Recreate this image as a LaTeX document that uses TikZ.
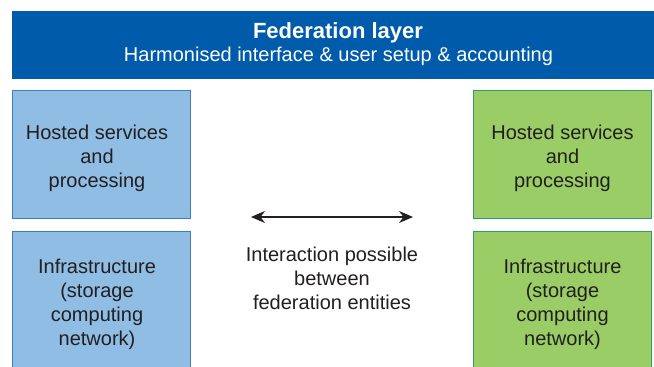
\documentclass[tikz,border=0pt]{standalone}
\usepackage{fontspec}
\setmainfont{Liberation Sans}
\usetikzlibrary{arrows.meta}
\definecolor{bannerblue}{RGB}{0,91,170}
\definecolor{boxblue}{RGB}{143,189,228}
\definecolor{edgeblue}{RGB}{62,125,192}
\definecolor{boxgreen}{RGB}{154,205,102}
\definecolor{edgegreen}{RGB}{42,158,108}
\definecolor{txt}{RGB}{35,31,32}
\begin{document}
\begin{tikzpicture}[x=1pt,y=-1pt,
  bodyfont/.style={font=\fontsize{20}{24}\selectfont},
  panel/.style={line width=1pt, minimum width=178pt, inner sep=0pt},
  bluebox/.style={panel, draw=edgeblue, fill=boxblue},
  greenbox/.style={panel, draw=edgegreen, fill=boxgreen},
  banner/.style={fill=bannerblue, inner sep=0pt},
  bantext/.style={text=white, inner sep=0pt},
  plain/.style={text=txt, align=center, inner sep=0pt, bodyfont}]
\useasboundingbox (0,0) rectangle (654,367);
\clip (0,0) rectangle (654,367);
\fill[white] (0,0) rectangle (654,367);
\node[banner, minimum width=642pt, minimum height=68pt] (fed) at (333,45) {};
\node[bantext, font=\fontsize{22}{26}\bfseries\selectfont] (title) at (338,32.5) {Federation layer};
\node[bantext, bodyfont] (sub) at (338.5,56) {Harmonised interface \& user setup \& accounting};
\node[bluebox, minimum height=128pt] (lhost) at (101,154) {};
\node[bluebox, minimum height=140pt] (linfra) at (101,301) {};
\node[greenbox, minimum height=128pt] (rhost) at (562.5,154) {};
\node[greenbox, minimum height=140pt] (rinfra) at (562.5,301) {};
\node[plain] (lhostt) at (97,158) {Hosted services\\and\\processing};
\node[plain] (linfrat) at (97,304) {Infrastructure\\(storage\\computing\\network)};
\node[plain] (rhostt) at (562.5,158) {Hosted services\\and\\processing};
\node[plain] (rinfrat) at (562.5,304) {Infrastructure\\(storage\\computing\\network)};
\coordinate (al) at (251,217);
\coordinate (ar) at (413,217);
\draw[txt, line width=1.5pt, {Stealth[length=14pt,width=12pt]}-{Stealth[length=14pt,width=12pt]}] (al) -- (ar);
\node[plain] (inter) at (332,278) {Interaction possible\\between\\federation entities};
\end{tikzpicture}
\end{document}
